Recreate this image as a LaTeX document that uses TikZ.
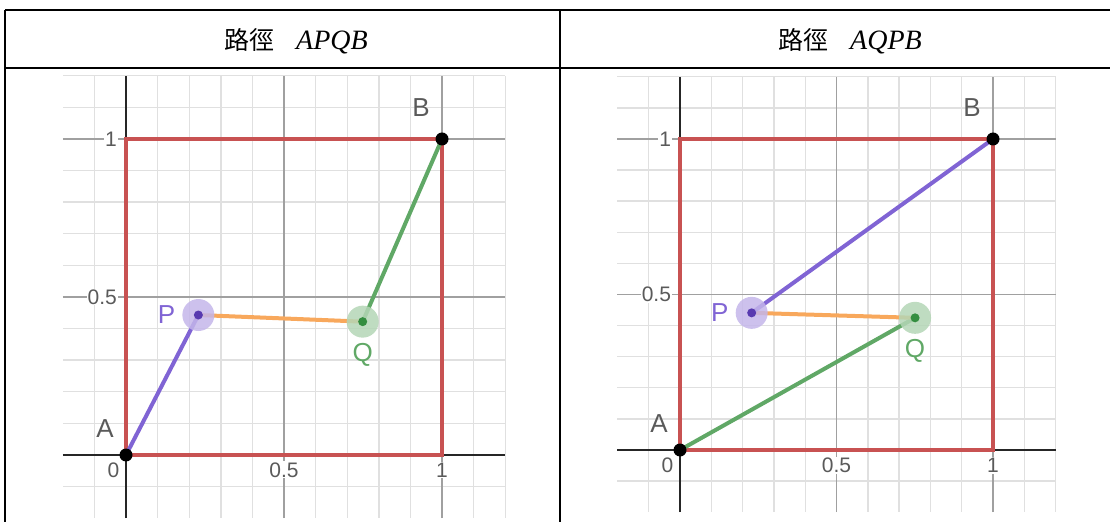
\documentclass[tikz,border=0pt]{standalone}
\usepackage{fontspec}
\newfontfamily\ggbfont{Liberation Sans}
\newfontfamily\cjkfont{Noto Sans CJK TC}
\newfontfamily\hdrfont{Liberation Serif}
\usetikzlibrary{positioning}
\definecolor{sqred}{RGB}{200,82,82}
\definecolor{pathpurple}{RGB}{128,100,212}
\definecolor{pathgreen}{RGB}{96,168,102}
\definecolor{pathorange}{RGB}{248,168,92}
\definecolor{ptpurple}{RGB}{88,58,176}
\definecolor{ptgreen}{RGB}{52,142,64}
\definecolor{halopurple}{RGB}{196,182,234}
\definecolor{halogreen}{RGB}{180,214,182}
\definecolor{lblgray}{RGB}{90,90,90}
\definecolor{minorgray}{RGB}{224,224,224}
\definecolor{majorgray}{RGB}{160,160,160}

\begin{document}
\begin{tikzpicture}[
    x=1pt, y=1pt,
    rule/.style={line width=1.8pt},
    minorline/.style={draw=minorgray, line width=1.4pt},
    majorline/.style={draw=majorgray, line width=1.4pt},
    axisline/.style={draw=black!85, line width=1.8pt},
    square/.style={draw=sqred, line width=4pt},
    seg/.style={line width=4pt, line cap=round},
    tick/.style={font=\ggbfont\fontsize{21}{21}\selectfont, text=lblgray, fill=white, inner sep=1pt},
    ptname/.style={font=\ggbfont\fontsize{26}{26}\selectfont, inner sep=0pt},
    blackdot/.style={circle, fill=black, minimum size=13pt, inner sep=0pt},
    halo/.style={circle, minimum size=32pt, inner sep=0pt, fill opacity=0.85},
    core/.style={circle, minimum size=9pt, inner sep=0pt},
    header/.style={inner sep=0pt}
]
\useasboundingbox (0,0) rectangle (1110,522);

\draw[rule] (5,512) -- (1110,512);
\draw[rule] (5,454) -- (1110,454);
\draw[rule] (5,512) -- (5,0);
\draw[rule] (560,512) -- (560,0);

\node[header] (hleft) at (296,481) {{\cjkfont\fontsize{25}{28}\selectfont 路徑}\hspace{22pt}{\hdrfont\fontsize{28}{30}\selectfont\itshape APQB}};
\node[header] (hright) at (850,481) {{\cjkfont\fontsize{25}{28}\selectfont 路徑}\hspace{22pt}{\hdrfont\fontsize{28}{30}\selectfont\itshape AQPB}};

\begin{scope}[shift={(126pt,67pt)}, x=316pt, y=316pt]
\draw[minorline] (-0.2,-0.2) grid[step=0.1] (1.2001,1.2001);
\draw[majorline] (-0.2,-0.2) grid[step=0.5] (1.2001,1.2001);
\draw[axisline] (-0.2,0) -- (1.2,0);
\draw[axisline] (0,-0.2) -- (0,1.2);

\node[tick] (lx0) at (-0.04,-0.047) {0};
\node[tick] (lx1) at (0.5,-0.047) {0.5};
\node[tick] (lx2) at (1,-0.047) {1};
\node[tick, anchor=east] (ly1) at (-0.025,0.5) {0.5};
\node[tick, anchor=east] (ly2) at (-0.025,1) {1};

\coordinate (lA) at (0,0);
\coordinate (lP) at (0.229,0.443);
\coordinate (lQ) at (0.749,0.422);
\coordinate (lB) at (1,1);

\draw[square] (lA) rectangle (lB);
\draw[seg, pathpurple] (lA) -- (lP);
\draw[seg, pathorange] (lP) -- (lQ);
\draw[seg, pathgreen] (lQ) -- (lB);

\node[halo, fill=halopurple] (lPhalo) at (lP) {};
\node[core, fill=ptpurple] (lPdot) at (lP) {};
\node[halo, fill=halogreen] (lQhalo) at (lQ) {};
\node[core, fill=ptgreen] (lQdot) at (lQ) {};
\node[blackdot] (lAdot) at (lA) {};
\node[blackdot] (lBdot) at (lB) {};

\node[ptname, text=lblgray, above left=17pt and 12pt of lA] (lAname) {A};
\node[ptname, text=lblgray, above left=22pt and 12pt of lB] (lBname) {B};
\node[ptname, text=pathpurple, left=23pt of lP] (lPname) {P};
\node[ptname, text=pathgreen, below=21pt of lQ] (lQname) {Q};
\end{scope}

\begin{scope}[shift={(680pt,72pt)}, x=313pt, y=311pt]
\draw[minorline] (-0.2,-0.2) grid[step=0.1] (1.2001,1.2001);
\draw[majorline] (-0.2,-0.2) grid[step=0.5] (1.2001,1.2001);
\draw[axisline] (-0.2,0) -- (1.2,0);
\draw[axisline] (0,-0.2) -- (0,1.2);

\node[tick] (rx0) at (-0.04,-0.05) {0};
\node[tick] (rx1) at (0.5,-0.05) {0.5};
\node[tick] (rx2) at (1,-0.05) {1};
\node[tick, anchor=east] (ry1) at (-0.025,0.5) {0.5};
\node[tick, anchor=east] (ry2) at (-0.025,1) {1};

\coordinate (rA) at (0,0);
\coordinate (rP) at (0.229,0.441);
\coordinate (rQ) at (0.751,0.425);
\coordinate (rB) at (1,1);

\draw[square] (rA) rectangle (rB);
\draw[seg, pathgreen] (rA) -- (rQ);
\draw[seg, pathorange] (rQ) -- (rP);
\draw[seg, pathpurple] (rP) -- (rB);

\node[halo, fill=halopurple] (rPhalo) at (rP) {};
\node[core, fill=ptpurple] (rPdot) at (rP) {};
\node[halo, fill=halogreen] (rQhalo) at (rQ) {};
\node[core, fill=ptgreen] (rQdot) at (rQ) {};
\node[blackdot] (rAdot) at (rA) {};
\node[blackdot] (rBdot) at (rB) {};

\node[ptname, text=lblgray, above left=17pt and 12pt of rA] (rAname) {A};
\node[ptname, text=lblgray, above left=22pt and 12pt of rB] (rBname) {B};
\node[ptname, text=pathpurple, left=23pt of rP] (rPname) {P};
\node[ptname, text=pathgreen, below=21pt of rQ] (rQname) {Q};
\end{scope}
\end{tikzpicture}
\end{document}
